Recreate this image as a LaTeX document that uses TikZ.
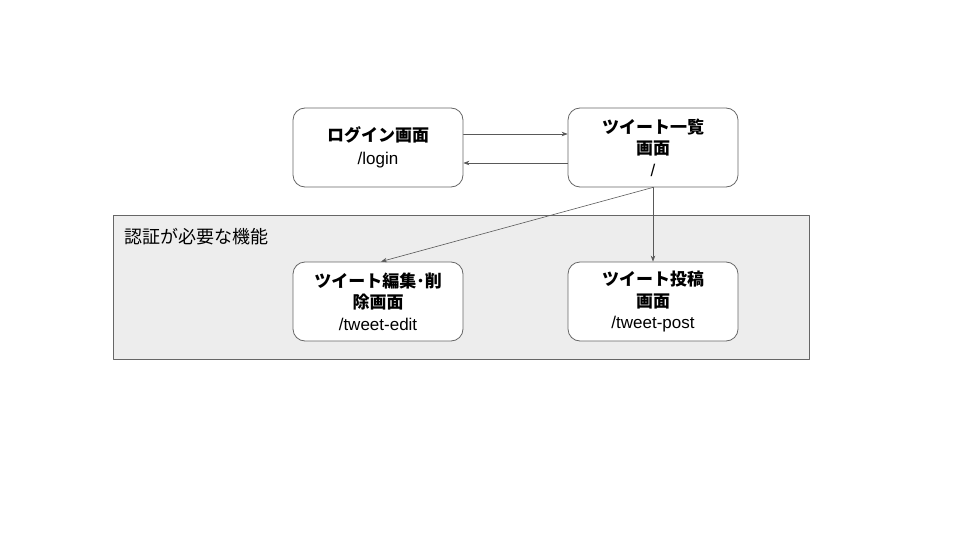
\documentclass[tikz,border=0pt]{standalone}
\usepackage{fontspec}
\usetikzlibrary{arrows.meta}
\setmainfont{Liberation Sans}
\newfontfamily\jpfont{Noto Sans CJK JP}
\begin{document}
\begin{tikzpicture}[x=1pt, y=-1pt, >={Stealth[length=6pt,width=4.5pt]}, line join=round, line cap=round,
  screen/.style={draw=black!60, fill=white, rounded corners=12pt, minimum width=170pt, minimum height=79pt, align=center, font=\fontsize{17}{21.5}\selectfont, line width=0.8pt},
  link/.style={->, draw=black!65, line width=0.6pt}]
\useasboundingbox (0,0) rectangle (960,540);
% area for pages that need login
\draw[fill=black!7, draw=black!60, line width=0.8pt] (113,215) rectangle (809,359);
\node[anchor=west, font=\jpfont\fontsize{18}{22}\selectfont] (auth) at (121,237) {認証が必要な機能};
% screens
\node[screen, font=\fontsize{17}{23.5}\selectfont] (login) at (378,147.5) {{\jpfont\bfseries ログイン画面}\\/login};
\node[screen] (list) at (653,147.5) {{\jpfont\bfseries ツイート一覧}\\{\jpfont\bfseries 画面}\\/};
\node[screen] (edit) at (378,301.5) {{\jpfont\bfseries ツイート編集･削}\\{\jpfont\bfseries 除画面}\\/tweet-edit};
\node[screen] (post) at (653,301.5) {{\jpfont\bfseries ツイート投稿}\\{\jpfont\bfseries 画面}\\/tweet-post};
% transitions
\draw[link] ([yshift=13.5pt]login.east) -- ([yshift=13.5pt]list.west);
\draw[link] ([yshift=-15.5pt]list.west) -- ([yshift=-15.5pt]login.east);
\draw[link] (list.south) -- ([xshift=3pt]edit.north);
\draw[link] (list.south) -- (post.north);
\end{tikzpicture}
\end{document}
